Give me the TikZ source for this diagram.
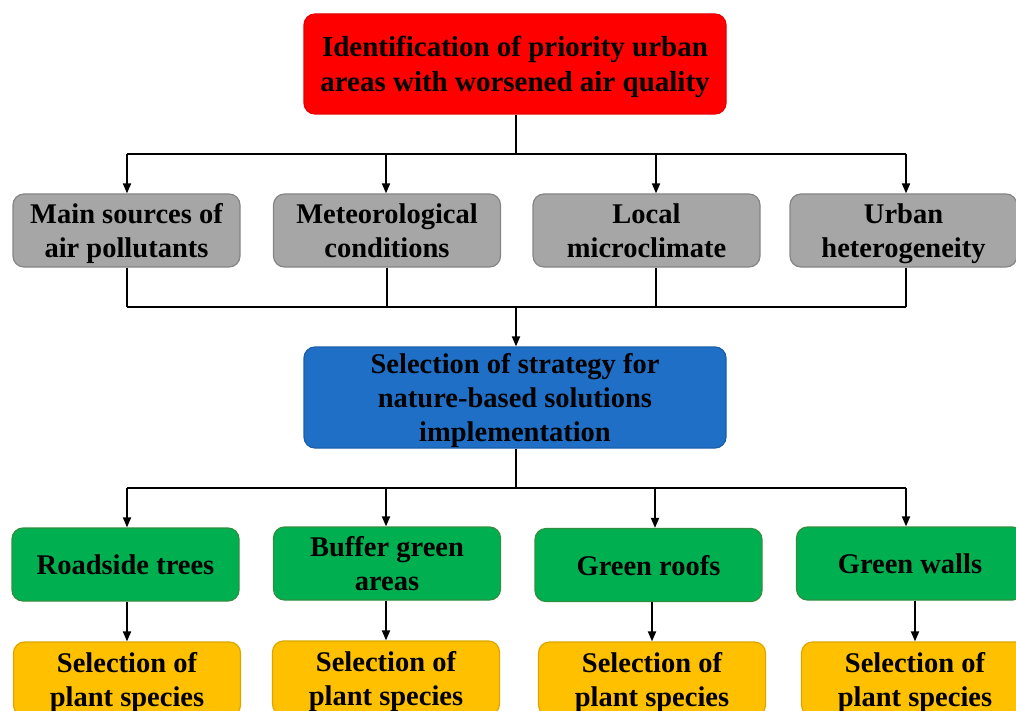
\documentclass[tikz,border=0pt]{standalone}
\usepackage{fontspec}
\setmainfont{Liberation Serif}
\usetikzlibrary{arrows.meta}
\definecolor{redf}{HTML}{FF0000}
\definecolor{redd}{HTML}{E60000}
\definecolor{grayf}{HTML}{A6A6A6}
\definecolor{grayd}{HTML}{858585}
\definecolor{bluef}{HTML}{1F6FC6}
\definecolor{blued}{HTML}{1A5EAA}
\definecolor{greenf}{HTML}{00B050}
\definecolor{greend}{HTML}{2F8F3F}
\definecolor{yellowf}{HTML}{FFC000}
\definecolor{yellowd}{HTML}{DDA500}
\tikzset{
  box/.style={rounded corners=11pt, line width=1.2pt, align=center, inner sep=0pt,
    text depth=0pt, font=\fontsize{28.5}{34}\selectfont\bfseries, text=black},
  redbox/.style={box, fill=redf, draw=redd, minimum width=422pt, minimum height=100pt,
    font=\fontsize{29}{34.5}\selectfont\bfseries},
  graybox/.style={box, fill=grayf, draw=grayd, minimum width=227pt, minimum height=73pt},
  bluebox/.style={box, fill=bluef, draw=blued, minimum width=422pt, minimum height=101pt},
  greenbox/.style={box, fill=greenf, draw=greend, minimum width=227pt, minimum height=73pt},
  yellowbox/.style={box, fill=yellowf, draw=yellowd, minimum width=227pt, minimum height=74pt},
  conn/.style={line width=1.8pt, draw=black},
  arr/.style={conn, -{Triangle[length=10pt,width=8pt]}}
}
\begin{document}
\begin{tikzpicture}[x=1pt,y=-1pt]
\useasboundingbox (0,0) rectangle (1016,711);
\clip (0,0) rectangle (1016,711);
% boxes
\node[redbox] (red) at (515,64) {Identification of priority urban\\areas with worsened air quality};
\node[graybox] (g1) at (126.5,230.5) {Main sources of\\air pollutants};
\node[graybox] (g2) at (387,230.5) {Meteorological\\conditions};
\node[graybox] (g3) at (646.5,230.5) {Local\\microclimate};
\node[graybox] (g4) at (903.5,230.5) {Urban\\heterogeneity};
\node[bluebox] (blue) at (515,397.5) {Selection of strategy for\\nature-based solutions\\implementation};
\node[greenbox] (v1) at (125.5,564.5) {Roadside trees};
\node[greenbox] (v2) at (387,563.5) {Buffer green\\areas};
\node[greenbox] (v3) at (648.5,565) {Green roofs};
\node[greenbox] (v4) at (910,563.5) {Green walls};
\node[yellowbox] (y1) at (127,679) {Selection of\\plant species};
\node[yellowbox] (y2) at (386,678) {Selection of\\plant species};
\node[yellowbox] (y3) at (652,679) {Selection of\\plant species};
\node[yellowbox] (y4) at (915,679) {Selection of\\plant species};
% junctions
\coordinate (t0) at (516,154);
\coordinate (t1) at (127,154);
\coordinate (t2) at (386,154);
\coordinate (t3) at (656,154);
\coordinate (t4) at (906,154);
\coordinate (m0) at (516,307);
\coordinate (m1) at (127,307);
\coordinate (m2) at (387,307);
\coordinate (m3) at (656,307);
\coordinate (m4) at (906,307);
\coordinate (b0) at (516,488);
\coordinate (b1) at (127,488);
\coordinate (b2) at (386,488);
\coordinate (b3) at (655,488);
\coordinate (b4) at (906,488);
% top fan-out
\draw[conn] (red.south -| t0) -- (t0);
\draw[conn] (t1) -- (t4);
\draw[arr] (t1) -- (t1 |- g1.north);
\draw[arr] (t2) -- (t2 |- g2.north);
\draw[arr] (t3) -- (t3 |- g3.north);
\draw[arr] (t4) -- (t4 |- g4.north);
% fan-in
\draw[conn] (m1 |- g1.south) -- (m1);
\draw[conn] (m2 |- g2.south) -- (m2);
\draw[conn] (m3 |- g3.south) -- (m3);
\draw[conn] (m4 |- g4.south) -- (m4);
\draw[conn] (m1) -- (m4);
\draw[arr] (m0) -- (m0 |- blue.north);
% second fan-out
\draw[conn] (blue.south -| b0) -- (b0);
\draw[conn] (b1) -- (b4);
\draw[arr] (b1) -- (b1 |- v1.north);
\draw[arr] (b2) -- (b2 |- v2.north);
\draw[arr] (b3) -- (b3 |- v3.north);
\draw[arr] (b4) -- (b4 |- v4.north);
% green to yellow
\draw[arr] (v1.south -| y1) -- (y1.north);
\draw[arr] (v2.south -| y2) -- (y2.north);
\draw[arr] (v3.south -| y3) -- (y3.north);
\draw[arr] (v4.south -| y4) -- (y4.north);
\end{tikzpicture}
\end{document}
